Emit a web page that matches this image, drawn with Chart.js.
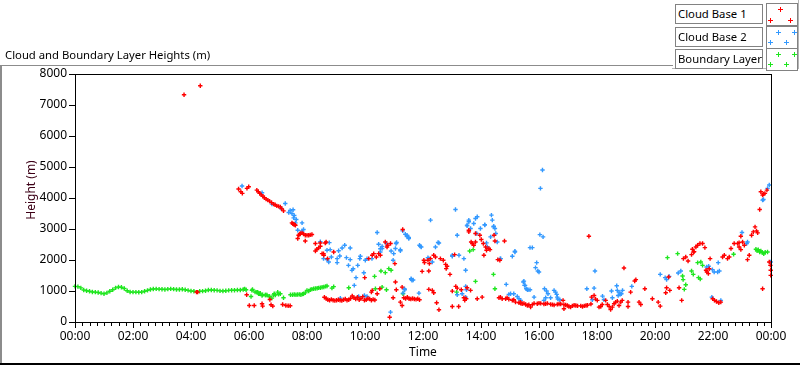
<!DOCTYPE html>
<html><head><meta charset="utf-8">
<script src="https://cdn.jsdelivr.net/npm/chart.js@4.4.1/dist/chart.umd.min.js"></script>
<style>
html,body{margin:0;padding:0;background:#fff;}
#wrap{position:relative;width:800px;height:365px;overflow:hidden;font-family:"Noto Sans",sans-serif;}
#c{position:absolute;left:0;top:0;}
.frameTop{position:absolute;left:0;top:65px;width:673px;height:0;border-top:1px solid #8c8c8c;}
.frameLeft{position:absolute;left:0;top:65px;width:0;height:300px;border-left:2px solid #8c8c8c;}
.frameBottom{position:absolute;left:0;top:363px;width:800px;height:0;border-top:2px solid #000;}
#title{position:absolute;left:5px;top:47px;font-size:11.3px;color:#000;white-space:nowrap;}
#ytitle{position:absolute;left:24px;top:183px;width:14px;height:14px;font-size:12px;line-height:14px;color:#3c0016;white-space:nowrap;}
#ytitle span{position:absolute;left:50%;top:50%;transform:translate(-50%,-50%) rotate(-90deg);}
#legend{position:absolute;left:672px;top:0;width:126px;height:68px;border-right:1px solid #b4b4b4;border-bottom:1px solid #b4b4b4;}
.row{position:absolute;left:3px;width:124px;height:20px;}
.lbl{position:absolute;left:0;top:0;width:84px;height:18px;border:1px solid #828282;background:#fff;font-size:11.3px;line-height:18px;padding-left:2px;color:#000;white-space:nowrap;overflow:hidden;}
.sym{position:absolute;left:91px;top:-1px;width:30px;height:21px;border:1px solid #828282;background:#fff;}
</style>
</head><body>
<div id="wrap">
  <canvas id="c" width="800" height="365"></canvas>
  <div class="frameTop"></div>
  <div class="frameLeft"></div>
  <div class="frameBottom"></div>
  <div id="title">Cloud and Boundary Layer Heights (m)</div>
  <div id="ytitle"><span>Height (m)</span></div>
  <div id="legend"></div>
</div>
<script>
// ---- data (time in decimal hours, height in metres) ----
const seriesNames = ['Cloud Base 1', 'Cloud Base 2', 'Boundary Layer'];
const xTickLabels = ['00:00','02:00','04:00','06:00','08:00','10:00','12:00','14:00','16:00','18:00','20:00','22:00','00:00'];
const yTickValues = [0,1000,2000,3000,4000,5000,6000,7000,8000];
const yTickLabels = ['0','1000','2000','3000','4000','5000','6000','7000','8000'];

const cb1Hours = [3.76,4.19,4.23,4.32,5.64,5.72,5.77,5.92,5.93,5.99,6.01,6.18,6.27,6.32,6.37,6.42,6.45,6.47,6.48,6.53,6.59,6.65,6.71,6.72,6.76,6.78,6.82,6.85,6.90,6.96,7.02,7.08,7.13,7.16,7.19,7.27,7.35,7.42,7.48,7.51,7.54,7.57,7.60,7.68,7.71,7.75,7.77,7.83,7.88,7.94,7.94,8.00,8.06,8.11,8.17,8.29,8.29,8.34,8.40,8.46,8.46,8.52,8.57,8.58,8.63,8.66,8.71,8.92,
8.60,8.66,8.72,8.78,8.84,8.90,8.96,9.02,9.08,9.14,9.20,9.26,9.32,9.38,9.44,9.50,9.56,9.62,9.68,9.74,9.80,9.86,9.92,9.98,10.04,10.10,10.16,10.22,10.28,10.34,
9.99,10.13,10.22,10.25,10.25,10.30,10.39,10.42,10.47,10.51,10.53,10.70,10.76,10.78,10.85,10.88,10.97,11.03,11.05,11.08,11.22,11.28,11.28,11.30,
11.34,11.40,11.46,11.52,11.58,11.64,11.70,11.76,11.82,11.88,
11.97,12.03,12.05,12.17,12.20,12.20,12.22,12.26,12.32,12.37,12.37,12.43,12.47,12.55,12.60,12.70,12.78,12.80,12.83,12.93,13.01,13.01,13.09,13.13,13.18,13.23,13.32,13.41,13.44,13.49,13.52,13.58,13.58,13.64,13.66,13.70,13.75,13.81,13.81,13.87,13.96,14.01,14.04,14.08,14.10,14.16,14.19,14.27,14.31,14.45,14.48,14.58,14.62,14.65,14.67,14.73,14.81,14.85,14.90,14.96,15.08,15.13,15.19,15.31,15.36,15.42,15.54,15.60,15.65,
15.37,15.48,15.71,15.77,15.83,15.94,16.00,16.06,16.17,16.23,16.29,16.40,16.46,16.52,16.63,16.69,16.75,16.83,16.86,16.86,16.92,16.98,17.03,17.09,17.15,17.21,17.27,17.33,17.44,17.50,17.56,17.62,17.67,17.72,17.79,
17.81,17.90,17.95,18.01,18.07,18.13,18.18,18.30,18.36,18.42,18.47,18.53,18.59,18.64,18.70,18.76,18.82,18.87,18.93,19.07,19.07,19.16,19.30,19.34,19.45,19.51,19.65,19.91,20.11,20.18,20.37,20.40,20.47,20.51,20.83,20.92,20.98,21.06,21.14,21.26,21.29,21.33,21.35,21.41,21.47,21.55,21.64,21.72,21.76,21.79,21.84,21.87,21.90,21.99,22.05,22.12,22.20,22.27,22.33,22.39,22.50,22.56,22.62,22.73,22.85,22.90,22.90,22.96,22.96,23.02,23.08,23.19,23.25,23.33,23.39,23.45,23.50,23.54,23.61,23.65,23.71,23.71,23.74,23.79,23.86,23.94,23.98,23.99,23.99];
const cb1Heights = [7330,965,965,7621,4288,4201,4148,880,4310,4362,534,534,4255,4200,4148,4100,589,511,4061,4010,3964,3930,3899,728,557,3850,511,3802,3780,3747,3730,3715,3650,566,3585,534,524,524,3197,3170,3154,3140,3123,2692,2800,2830,2854,2874,2840,2800,2615,2800,2800,2810,2821,2291,2530,2346,2389,2443,2550,2207,2207,2152,2550,2582,2045,2259,
800,760,720,700,730,700,690,700,720,700,690,720,740,700,720,760,840,780,740,800,720,760,820,700,720,760,740,700,730,710,
1430,2045,965,1019,2152,2207,2097,912,2207,1073,2152,2582,2420,2475,155,2530,783,1883,1288,1042,641,1126,534,2984,
780,760,800,750,740,760,740,730,750,720,
1634,1990,1920,1990,1644,1052,1883,2045,1019,2152,945,2097,621,395,2045,1990,1860,1721,1796,1537,997,502,2175,1149,1094,502,1042,783,696,751,1107,2906,2960,1019,2582,2530,2475,2854,2582,751,2800,2659,803,2530,2152,2420,2314,2369,2336,2800,2615,2013,783,1990,803,751,2615,751,783,730,696,718,641,621,641,589,566,534,557,
600,600,480,560,600,590,610,600,580,590,600,570,560,550,570,580,580,696,427,560,550,530,500,480,520,540,530,520,520,500,520,530,540,2767,580,
803,857,738,696,480,502,566,696,566,502,405,480,589,641,674,534,641,696,1741,641,502,965,1323,1366,641,566,1073,751,641,511,945,1107,1450,1019,1107,696,2045,2097,1970,2175,2346,2259,2270,2420,2475,2530,2530,2400,1667,1611,1560,1720,2045,751,700,660,620,641,2097,2152,2045,2097,2369,2530,2530,2420,2560,2336,2767,2582,2475,2013,2152,2800,2906,3068,2938,2874,3631,4201,4094,1073,4127,4148,4255,1935,1828,1667,1505];

const cb2Hours = [5.76,6.45,6.79,7.11,7.25,7.37,7.42,7.48,7.52,7.54,7.56,7.60,7.63,7.68,7.83,7.83,7.88,8.46,8.57,8.69,8.69,8.75,8.77,8.80,8.84,9.04,9.04,9.09,9.13,9.15,9.21,9.30,9.36,9.43,9.49,9.49,9.55,9.59,9.63,9.69,9.75,9.78,9.82,9.84,9.96,9.98,10.01,10.07,10.07,10.24,10.42,10.47,10.53,10.53,10.59,10.59,10.74,10.88,10.90,10.97,10.99,11.05,11.07,11.09,11.22,11.22,11.30,11.31,11.36,11.37,11.39,11.45,11.45,11.51,11.51,11.59,11.60,11.62,11.66,11.86,11.88,11.91,11.94,12.17,12.20,12.26,12.32,12.43,12.52,12.55,13.01,13.01,13.12,13.18,13.18,13.24,13.35,13.41,13.47,13.47,13.47,13.50,13.52,13.52,13.58,13.58,13.64,13.75,13.81,13.85,13.87,13.98,14.13,14.13,14.19,14.22,14.33,14.36,14.39,14.43,14.44,14.48,14.51,14.56,14.66,14.68,14.87,14.96,15.02,15.08,15.13,15.17,15.17,15.25,15.31,15.37,15.46,15.48,15.50,15.52,15.56,15.60,15.62,15.69,15.69,15.77,15.83,15.88,15.92,15.96,16.00,16.03,16.05,16.12,16.14,16.17,16.19,16.23,16.26,16.31,16.40,16.52,16.57,16.61,16.63,16.65,16.72,17.65,17.84,17.90,17.93,18.19,18.24,18.50,18.53,18.68,18.70,18.73,18.76,18.80,18.84,18.88,19.20,20.18,20.35,20.40,20.49,20.80,20.89,21.78,21.85,21.96,21.98,22.04,22.16,22.18,22.22,22.27,23.00,23.16,23.19,23.71,23.74,23.88,23.94,23.99];
const cb2Heights = [4385,4168,3802,3663,3824,3531,3596,3499,3620,3359,3434,3197,3305,2960,3197,2940,2982,2588,2045,2314,2013,1935,2560,2336,2097,2045,1914,2300,2131,770,2386,2474,2077,1828,2386,2013,1665,1720,1181,1430,1828,825,2045,2120,1591,857,1990,2045,825,2045,2886,2508,2364,2260,2440,2369,2530,317,2290,1990,2207,2369,2530,2563,2300,2336,2938,932,1073,1042,2830,2755,2800,2690,2725,1397,1375,1343,1354,932,2475,2440,2420,2077,2045,3285,1937,2420,2563,2550,2152,2120,3630,2800,880,2152,911,2045,1667,1150,803,1042,3124,3100,3232,3285,3016,3178,3340,2854,3394,3016,3124,3140,2552,2420,2745,3448,3286,3070,3090,3016,2854,2583,2045,2045,1214,890,911,2120,911,2260,2280,825,750,696,1290,1320,1180,1180,1073,1042,1042,2400,1042,2400,803,1753,1916,1645,1611,2820,4310,4903,2745,696,1073,783,1000,911,783,1019,965,890,803,740,718,1073,718,1094,1645,836,718,1000,783,1170,1019,857,965,890,911,1019,1149,1537,1430,1366,1472,1580,1644,1773,1796,803,1689,1611,1611,1916,1645,696,2886,2530,2583,3932,3954,4310,4417,1935];

const blHours = [0.0,0.1,0.2,0.3,0.4,0.5,0.6,0.7,0.8,0.9,1.0,1.1,1.2,1.3,1.4,1.5,1.6,1.7,1.8,1.9,2.0,2.1,2.2,2.3,2.4,2.5,2.6,2.7,2.8,2.9,3.0,3.1,3.2,3.3,3.4,3.5,3.6,3.7,3.8,3.9,4.0,4.1,4.3,4.4,4.5,4.6,4.7,4.8,4.9,5.0,5.1,5.2,5.3,5.4,5.5,5.6,5.7,5.8,5.85,5.9,
6.07,6.10,6.12,6.21,6.27,6.30,6.33,6.36,6.39,6.45,6.47,6.56,6.58,6.62,6.70,6.71,6.79,6.85,6.87,6.91,6.99,7.02,7.08,7.19,7.43,7.50,7.56,7.62,7.68,7.74,7.79,7.85,7.88,7.94,8.00,8.06,8.12,8.17,8.23,8.29,8.35,8.40,8.46,8.52,8.58,8.64,8.69,8.86,8.92,9.44,
10.33,10.36,10.55,10.59,10.70,10.74,10.82,10.90,11.31,13.16,13.61,13.73,13.81,14.43,14.48,
20.43,20.78,20.95,20.97,21.01,21.06,21.26,21.32,21.47,21.50,21.56,21.58,21.64,22.71,23.48,23.52,23.56,23.61,23.65,23.70,23.75,23.80,23.88];
const blHeights = [1150,1140,1100,1030,1010,990,970,965,950,930,910,940,990,1040,1100,1130,1120,1080,1010,970,965,965,960,965,990,1020,1050,1065,1070,1060,1055,1050,1060,1070,1060,1050,1050,1055,1040,1020,1000,990,990,995,1010,1030,1030,1025,1020,1005,998,1010,1020,1025,1025,1030,1030,1050,1070,1040,
825,1019,1052,970,965,965,912,911,932,857,880,870,870,870,825,825,770,870,911,870,965,890,912,783,880,880,885,880,885,890,880,900,910,940,1019,1000,1042,1060,1073,1080,1090,1100,1107,1120,1130,1150,1159,1094,1140,1107,
1472,1073,1644,1126,1592,1042,1721,1667,912,965,2291,2336,1311,1537,1073,
2077,2207,1482,1366,1052,1204,1644,1537,1916,1430,1388,1935,1828,2184,2346,2300,2330,2260,2290,2240,2200,2250,2259];

const seriesColors = ['#ff0000', '#3399ff', '#1ee61e'];

// ---- chart ----
const toPoints = (hs, vs) => hs.map((h, i) => ({x: h, y: vs[i]}));
Chart.defaults.font.family = "'Noto Sans', sans-serif";
Chart.defaults.font.size = 12;
Chart.defaults.color = '#000';

const frameAndMinorTicks = {
  id: 'frameAndMinorTicks',
  afterDraw(chart) {
    const {ctx, chartArea: a, scales: {x}} = chart;
    ctx.save();
    ctx.strokeStyle = '#000';
    ctx.lineWidth = 1;
    ctx.strokeRect(Math.round(a.left) + 0.5, Math.round(a.top) + 0.5, Math.round(a.right - a.left), Math.round(a.bottom - a.top));
    for (let q = 0; q <= 96; q++) {
      if (q % 8 === 0) continue;
      const px = Math.round(x.getPixelForValue(q / 4)) + 0.5;
      ctx.beginPath();
      ctx.moveTo(px, a.bottom);
      ctx.lineTo(px, a.bottom + 4);
      ctx.stroke();
    }
    ctx.restore();
  }
};

const hourList = [cb1Hours, cb2Hours, blHours];
const heightList = [cb1Heights, cb2Heights, blHeights];

const chart = new Chart(document.getElementById('c'), {
  type: 'scatter',
  data: {
    datasets: seriesNames.map((name, k) => ({
      label: name,
      data: toPoints(hourList[k], heightList[k]),
      borderColor: seriesColors[k],
      backgroundColor: seriesColors[k],
      pointStyle: 'cross',
      pointRadius: 2.2,
      pointBorderWidth: 1.4,
      pointHoverRadius: 2.2,
      clip: 4
    }))
  },
  options: {
    responsive: false,
    animation: false,
    events: [],
    layout: {padding: {left: 0, top: 74, right: 29, bottom: 0}},
    plugins: {legend: {display: false}, tooltip: {enabled: false}},
    scales: {
      x: {
        type: 'linear', min: 0, max: 24,
        ticks: {stepSize: 2, autoSkip: false, maxRotation: 0, padding: 1, color: '#000',
                callback: (v, i) => xTickLabels[i]},
        grid: {drawOnChartArea: false, tickLength: 6, color: '#000', tickColor: '#000'},
        border: {display: true, color: '#000', width: 1},
        title: {display: true, text: 'Time', color: '#000', padding: {top: 0, bottom: 5}},
        afterFit: s => { s.height = 43; }
      },
      y: {
        min: 0, max: 8000,
        afterBuildTicks: s => { s.ticks = yTickValues.map(v => ({value: v})); },
        ticks: {padding: 2, color: '#000', callback: (v, i) => yTickLabels[i]},
        grid: {drawOnChartArea: false, tickLength: 6, color: '#000', tickColor: '#000'},
        border: {display: true, color: '#000', width: 1},
        afterFit: s => { s.width = 75; }
      }
    }
  },
  plugins: [frameAndMinorTicks]
});

// ---- legend (built from the chart's datasets) ----
const symPatterns = [[[13,5],[3,16],[23,16]], [[11,5],[27,5],[3,15],[19,15]], [[11,5],[27,5],[3,15],[19,15]]];
const legend = document.getElementById('legend');
chart.data.datasets.forEach((ds, k) => {
  const row = document.createElement('div');
  row.className = 'row';
  row.style.top = (4 + k * 22.5) + 'px';
  const crosses = symPatterns[k].map(([cx, cy]) =>
    `<path d="M${cx-2} ${cy+0.5}h5M${cx+0.5} ${cy-2}v5" stroke="${ds.borderColor}" stroke-width="1"/>`).join('');
  row.innerHTML = `<div class="lbl">${ds.label}</div><div class="sym"><svg width="30" height="21">${crosses}</svg></div>`;
  legend.appendChild(row);
});
</script>
</body></html>
